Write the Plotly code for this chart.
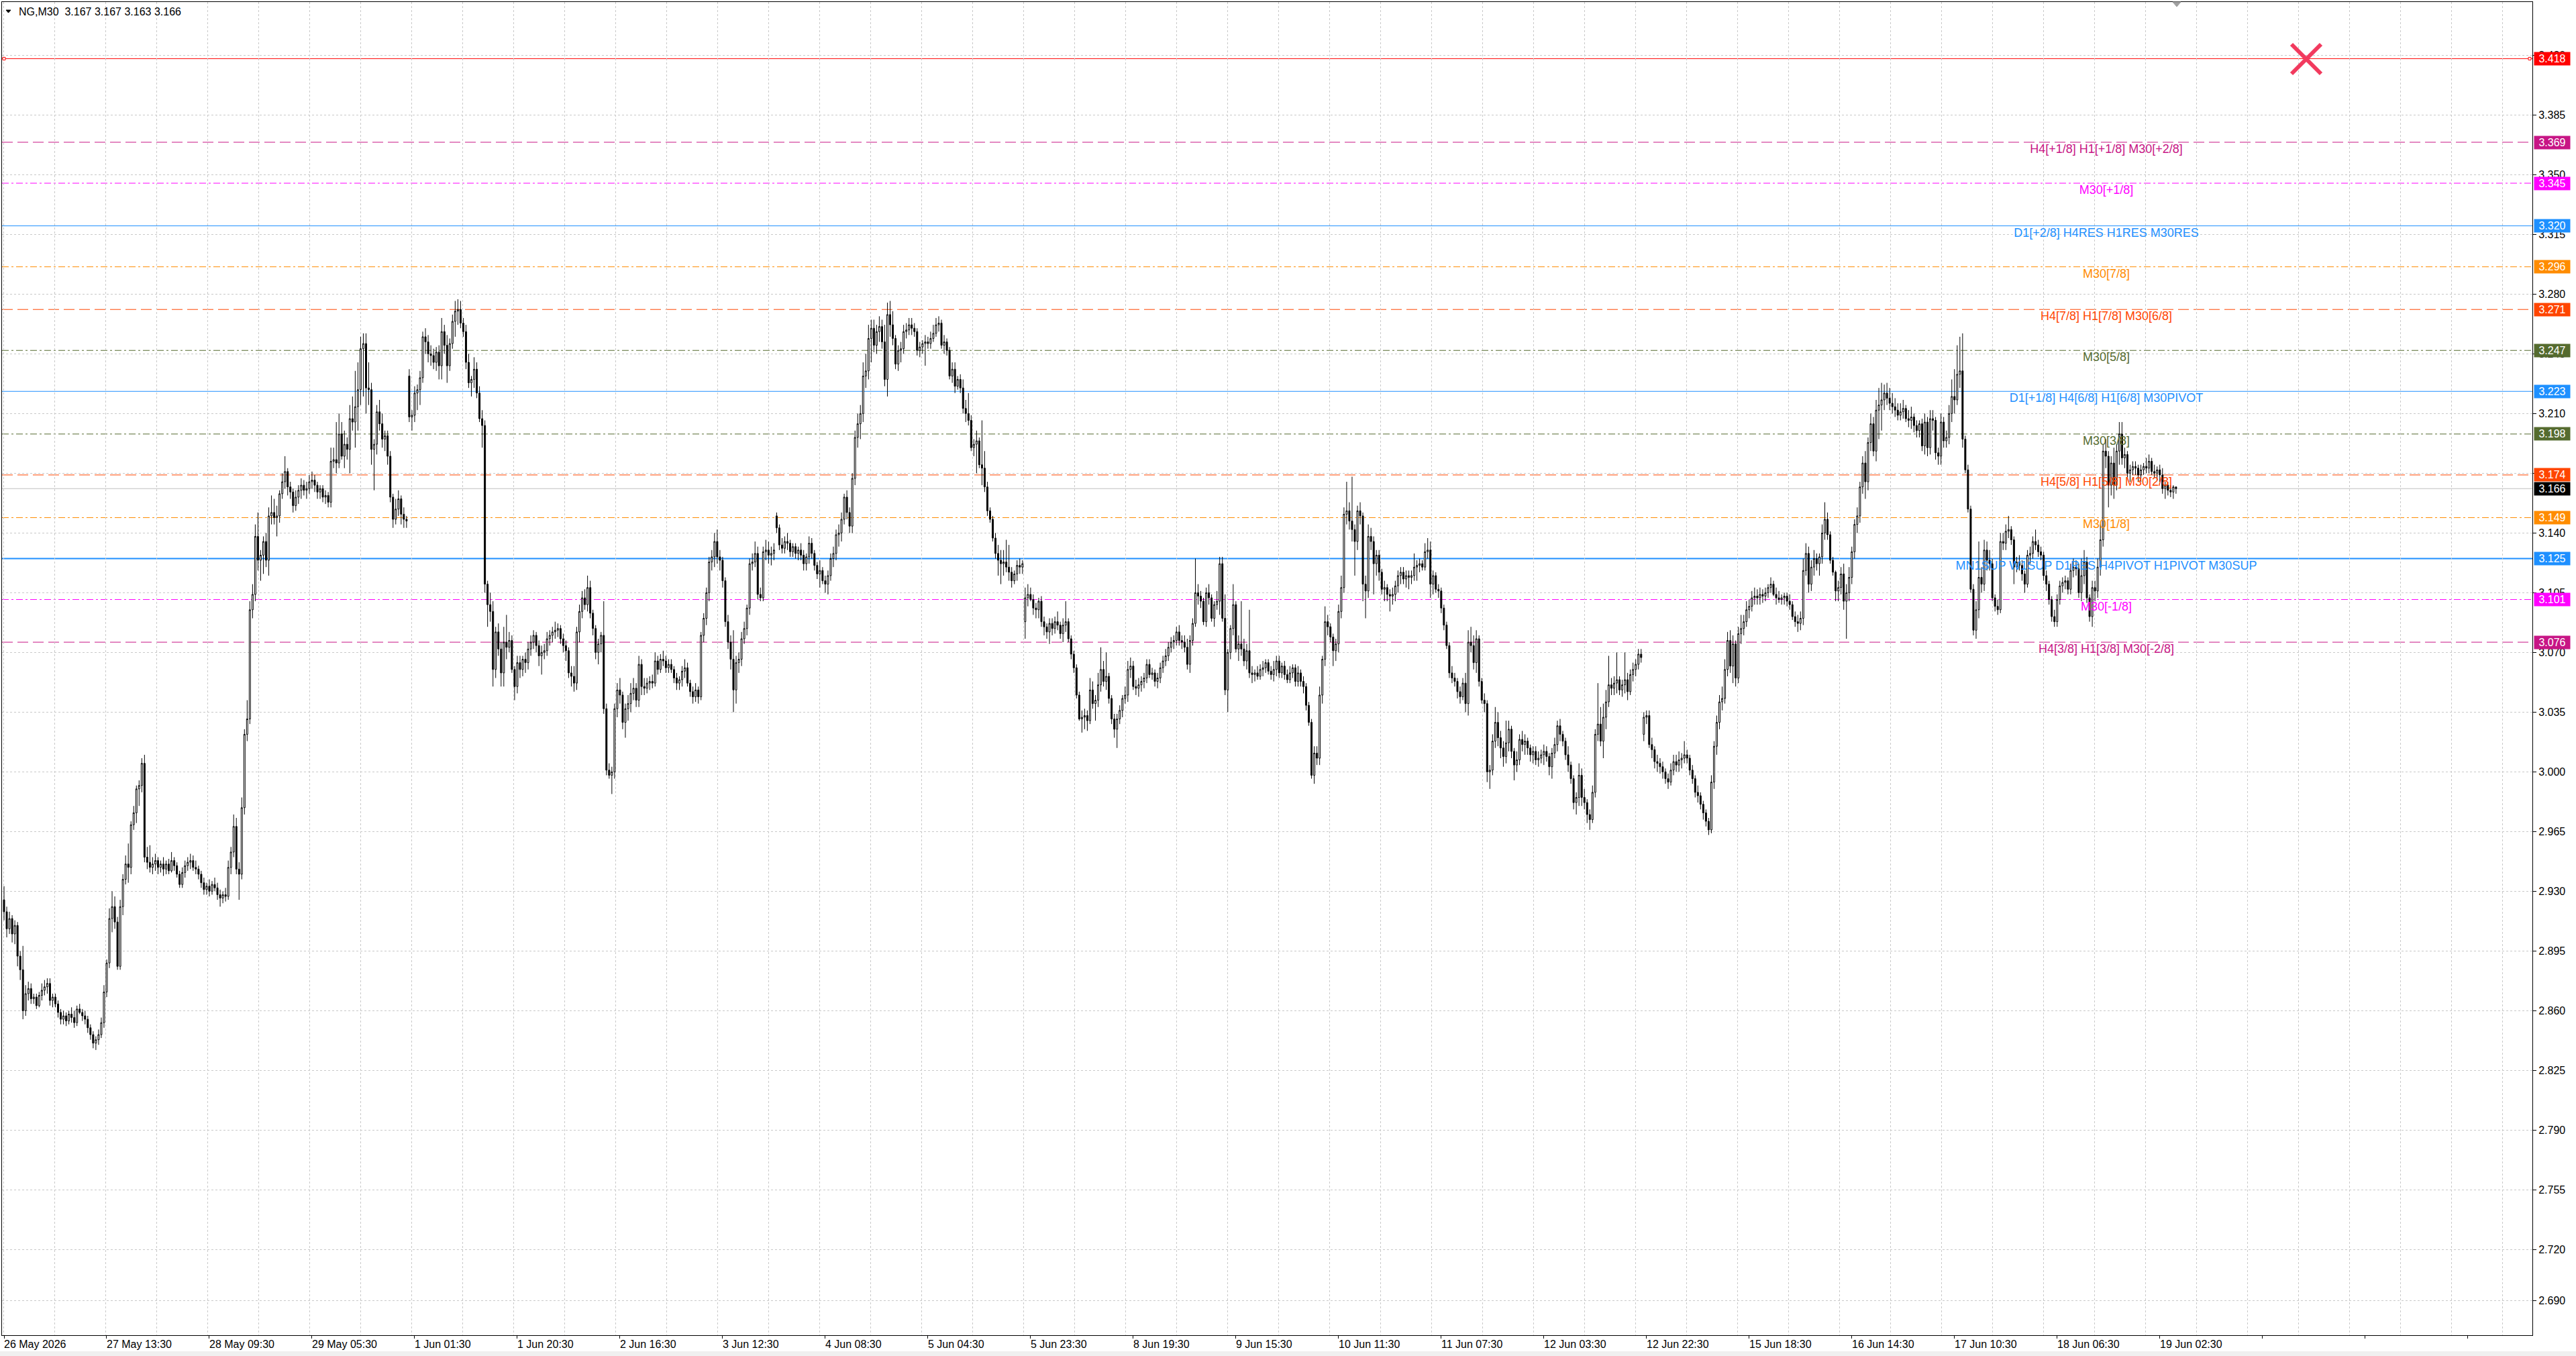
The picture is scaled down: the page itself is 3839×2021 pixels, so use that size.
import plotly.graph_objects as go

# ---------------- data (prices in thousandths) ----------------
closes = [
2918,2908,2914,2905,2910,2892,2884,2860,2870,2873,2867,2868,2863,2869,2872,2874,2876,2866,2868,2864,
2859,2855,2857,2854,2858,2856,2853,2861,2859,2857,2855,2850,2846,2841,2843,2846,2853,2871,2888,2914,
2921,2912,2886,2921,2937,2946,2944,2969,2976,2990,2992,3005,2950,2947,2944,2946,2948,2944,2946,2943,
2946,2942,2948,2945,2940,2934,2941,2945,2947,2948,2944,2943,2940,2935,2931,2933,2930,2934,2932,2928,
2926,2928,2927,2944,2953,2968,2943,2940,2979,3022,3031,3095,3104,3138,3124,3127,3135,3124,3150,3152,
3149,3150,3163,3170,3176,3167,3164,3156,3161,3165,3168,3165,3166,3170,3171,3168,3164,3166,3161,3162,
3158,3182,3183,3181,3198,3185,3192,3189,3207,3205,3214,3224,3248,3251,3225,3224,3189,3192,3211,3204,
3195,3197,3185,3161,3148,3154,3160,3151,3148,3147,3208,3209,3222,3224,3231,3255,3252,3245,3244,3240,
3246,3238,3258,3250,3238,3251,3264,3270,3271,3263,3258,3240,3228,3230,3236,3222,3207,3203,3110,3098,
3094,3060,3082,3072,3058,3076,3073,3077,3060,3050,3064,3060,3066,3064,3072,3076,3080,3074,3068,3070,
3071,3078,3080,3082,3083,3084,3078,3074,3071,3058,3056,3052,3082,3094,3102,3098,3108,3093,3084,3070,
3075,3080,3037,3001,2998,3000,3037,3048,3045,3029,3037,3040,3046,3049,3042,3063,3050,3049,3052,3053,
3052,3065,3060,3066,3065,3061,3063,3060,3055,3052,3054,3059,3061,3052,3047,3044,3048,3044,3080,3090,
3105,3123,3126,3135,3126,3124,3112,3088,3076,3066,3048,3064,3066,3078,3084,3096,3122,3123,3128,3104,
3102,3129,3130,3127,3128,3130,3143,3133,3131,3135,3134,3129,3132,3128,3130,3127,3122,3126,3134,3128,
3121,3116,3118,3112,3110,3115,3125,3128,3139,3140,3148,3161,3152,3144,3172,3196,3204,3210,3232,3235,
3254,3260,3250,3258,3261,3252,3230,3268,3262,3254,3239,3247,3248,3258,3259,3262,3260,3258,3247,3249,
3251,3252,3251,3254,3257,3262,3263,3250,3252,3247,3232,3236,3226,3230,3225,3213,3210,3206,3190,3192,
3194,3180,3178,3167,3153,3148,3137,3128,3124,3122,3123,3120,3117,3112,3116,3121,3120,3122,3102,3104,
3101,3096,3095,3100,3088,3085,3082,3087,3084,3088,3086,3081,3086,3088,3078,3069,3061,3045,3031,3032,
3033,3030,3048,3040,3042,3051,3060,3053,3056,3043,3031,3025,3031,3036,3043,3045,3060,3062,3050,3049,
3051,3053,3055,3063,3057,3058,3053,3055,3061,3065,3068,3073,3076,3077,3082,3077,3076,3073,3063,3077,
3087,3105,3103,3100,3088,3105,3102,3090,3098,3100,3122,3090,3048,3070,3084,3098,3072,3075,3072,3065,
3071,3058,3057,3058,3056,3060,3061,3064,3059,3057,3060,3065,3058,3062,3057,3054,3058,3061,3053,3058,
3053,3050,3039,3029,2998,3011,3008,3045,3066,3088,3085,3079,3071,3075,3094,3108,3151,3153,3147,3142,
3135,3153,3150,3110,3106,3138,3135,3122,3127,3117,3107,3108,3104,3103,3104,3109,3115,3117,3113,3115,
3114,3115,3120,3121,3122,3120,3129,3130,3110,3115,3107,3106,3096,3086,3074,3058,3055,3053,3047,3044,
3052,3040,3076,3074,3064,3078,3053,3042,3040,3000,3001,3018,3029,3020,3014,3009,3017,3025,3012,3004,
3007,3019,3016,3018,3014,3010,3012,3007,3008,3010,3012,3009,3003,3011,3016,3027,3022,3018,3010,3004,
2996,2982,2985,2998,2985,2982,2975,2972,2988,3022,3028,3018,3032,3041,3051,3049,3052,3054,3048,3051,
3054,3047,3057,3060,3063,3069,3067,3032,3033,3016,3013,3006,3005,3003,3000,2996,2994,3001,3006,3004,
3007,3008,3010,3008,3001,2996,2988,2986,2981,2976,2971,2966,2994,3015,3029,3041,3043,3060,3077,3062,
3075,3055,3081,3084,3088,3095,3097,3102,3103,3102,3104,3103,3105,3108,3110,3104,3102,3101,3102,3103,
3100,3098,3091,3088,3087,3090,3118,3128,3110,3120,3125,3122,3126,3140,3148,3139,3124,3117,3106,3108,
3116,3100,3105,3114,3129,3145,3150,3167,3181,3170,3193,3204,3188,3212,3215,3218,3222,3219,3216,3214,
3212,3209,3211,3213,3207,3206,3208,3203,3200,3204,3191,3205,3190,3207,3206,3187,3185,3205,3194,3196,
3210,3220,3218,3233,3235,3195,3177,3154,3107,3083,3095,3114,3110,3130,3124,3122,3102,3097,3095,3135,
3134,3141,3142,3136,3120,3123,3121,3116,3110,3127,3128,3135,3133,3129,3127,3115,3110,3101,3091,3088,
3101,3109,3111,3112,3107,3118,3120,3119,3105,3115,3123,3102,3091,3108,3106,3120,3136,3188,3185,3168,
3181,3168,3188,3198,3184,3186,3175,3177,3179,3178,3174,3177,3179,3178,3182,3176,3175,3177,3174,3166,
3168,3165,3164,3167,3166]

highs = [
2933,2921,2918,2916,2913,2912,2895,2898,2875,2877,2876,2870,2870,2871,2876,2878,2879,2879,2870,2870,
2866,2861,2860,2859,2860,2862,2860,2863,2864,2861,2860,2857,2852,2848,2845,2849,2856,2875,2890,2920,
2930,2927,2915,2925,2940,2951,2958,2971,2980,2992,2995,3008,3010,2956,2957,2950,2952,2950,2948,2950,
2948,2949,2953,2950,2947,2942,2944,2948,2950,2952,2951,2948,2945,2942,2938,2935,2937,2936,2938,2935,
2931,2930,2932,2948,2956,2975,2973,2947,2985,3025,3042,3100,3110,3145,3152,3130,3138,3140,3155,3162,
3160,3156,3165,3175,3185,3178,3170,3166,3165,3168,3172,3171,3170,3174,3176,3174,3170,3168,3168,3165,
3164,3190,3190,3205,3210,3205,3200,3196,3215,3220,3235,3240,3255,3257,3257,3240,3228,3195,3215,3218,
3210,3200,3200,3188,3163,3160,3165,3162,3155,3150,3236,3212,3226,3227,3235,3258,3260,3256,3250,3248,
3249,3250,3266,3262,3256,3254,3268,3276,3277,3276,3266,3262,3245,3232,3243,3240,3226,3212,3206,3112,
3105,3100,3085,3087,3076,3085,3092,3082,3080,3062,3068,3068,3068,3070,3076,3080,3083,3082,3077,3074,
3075,3082,3083,3085,3088,3087,3086,3081,3077,3073,3062,3062,3085,3098,3106,3107,3115,3112,3095,3086,
3078,3082,3100,3040,3005,3003,3040,3052,3055,3047,3040,3045,3052,3055,3052,3068,3066,3055,3055,3056,
3057,3070,3068,3069,3071,3068,3066,3066,3062,3058,3056,3062,3066,3064,3054,3050,3052,3050,3082,3093,
3108,3126,3130,3140,3142,3130,3126,3114,3092,3080,3083,3068,3070,3082,3088,3098,3125,3128,3135,3132,
3108,3132,3136,3135,3132,3134,3152,3145,3137,3138,3140,3136,3134,3134,3132,3134,3130,3128,3138,3137,
3130,3123,3124,3120,3115,3118,3128,3132,3142,3145,3152,3163,3165,3155,3175,3200,3210,3215,3240,3245,
3262,3265,3265,3262,3267,3265,3262,3275,3276,3270,3256,3250,3252,3262,3263,3266,3266,3263,3260,3252,
3253,3256,3255,3258,3262,3266,3267,3265,3256,3254,3249,3240,3240,3232,3233,3230,3218,3222,3209,3195,
3200,3196,3206,3188,3170,3155,3150,3140,3133,3130,3130,3136,3133,3120,3118,3124,3125,3124,3108,3110,
3108,3104,3099,3102,3103,3091,3087,3090,3090,3091,3094,3088,3090,3100,3090,3080,3071,3063,3047,3036,
3037,3036,3055,3053,3045,3058,3073,3065,3070,3058,3045,3034,3034,3039,3045,3050,3065,3067,3065,3054,
3055,3056,3058,3066,3066,3061,3060,3058,3064,3068,3072,3076,3079,3080,3085,3086,3080,3080,3078,3080,
3090,3125,3110,3106,3102,3108,3110,3104,3100,3106,3126,3126,3104,3072,3086,3110,3100,3080,3100,3078,
3075,3095,3062,3060,3062,3063,3065,3066,3066,3062,3065,3068,3068,3064,3065,3060,3062,3063,3063,3062,
3060,3056,3052,3041,3031,3015,3015,3050,3068,3097,3092,3087,3081,3078,3098,3115,3155,3170,3158,3173,
3145,3156,3158,3152,3115,3145,3143,3138,3130,3130,3119,3112,3110,3107,3108,3112,3118,3120,3120,3118,
3118,3118,3128,3124,3125,3124,3134,3137,3135,3118,3117,3110,3108,3098,3088,3076,3062,3058,3055,3050,
3055,3058,3083,3085,3080,3083,3080,3055,3046,3042,3004,3022,3038,3035,3024,3018,3030,3030,3027,3014,
3012,3022,3024,3022,3020,3016,3015,3015,3012,3013,3016,3015,3011,3014,3020,3030,3031,3024,3020,3015,
3006,2998,2988,3005,3002,2990,2984,2978,2992,3025,3052,3038,3040,3048,3068,3055,3056,3070,3056,3054,
3070,3058,3060,3064,3066,3072,3072,3035,3036,3036,3020,3015,3010,3008,3006,3002,2999,3005,3010,3010,
3012,3011,3018,3013,3010,3004,2998,2992,2988,2983,2978,2973,2998,3018,3033,3045,3050,3066,3082,3083,
3080,3077,3085,3092,3092,3100,3101,3106,3108,3107,3108,3107,3108,3110,3114,3112,3108,3106,3104,3105,
3105,3104,3100,3094,3092,3094,3125,3134,3132,3124,3130,3128,3128,3145,3158,3152,3141,3126,3118,3112,
3120,3122,3110,3120,3132,3148,3155,3170,3185,3188,3196,3210,3208,3218,3225,3228,3227,3228,3225,3222,
3219,3216,3216,3218,3215,3212,3214,3210,3206,3206,3207,3210,3208,3212,3212,3208,3190,3210,3208,3200,
3215,3230,3236,3250,3255,3257,3197,3180,3156,3110,3100,3135,3120,3136,3135,3130,3125,3104,3101,3140,
3140,3145,3150,3144,3138,3126,3127,3124,3118,3130,3132,3138,3142,3136,3132,3129,3118,3112,3103,3095,
3104,3112,3114,3115,3114,3122,3125,3124,3122,3125,3130,3126,3104,3112,3112,3125,3145,3192,3195,3188,
3185,3190,3192,3205,3205,3190,3188,3180,3182,3182,3180,3180,3181,3184,3186,3184,3180,3179,3180,3178,
3170,3170,3168,3168,3167]

lows = [
2913,2903,2905,2900,2899,2886,2878,2855,2857,2866,2864,2864,2861,2862,2866,2869,2870,2863,2862,2862,
2856,2852,2852,2851,2852,2853,2850,2851,2858,2854,2852,2847,2843,2838,2837,2840,2844,2850,2868,2885,
2906,2908,2884,2884,2916,2934,2935,2940,2966,2970,2980,2988,2947,2943,2941,2940,2942,2940,2941,2939,
2940,2940,2941,2942,2938,2932,2932,2938,2942,2943,2942,2940,2937,2932,2928,2928,2927,2928,2930,2925,
2921,2923,2924,2925,2940,2950,2940,2925,2937,2975,3018,3028,3090,3100,3118,3112,3116,3120,3115,3145,
3145,3138,3146,3160,3166,3162,3160,3152,3153,3157,3160,3162,3160,3163,3166,3164,3160,3160,3158,3157,
3155,3155,3178,3175,3178,3183,3178,3183,3175,3200,3190,3200,3215,3220,3210,3215,3180,3165,3186,3200,
3190,3188,3180,3158,3143,3145,3150,3145,3143,3143,3205,3200,3205,3212,3215,3228,3245,3240,3238,3236,
3235,3230,3230,3245,3228,3235,3248,3255,3262,3260,3255,3236,3225,3220,3225,3219,3205,3190,3105,3085,
3088,3050,3055,3068,3050,3050,3066,3070,3058,3042,3046,3055,3056,3058,3060,3068,3072,3070,3062,3057,
3066,3068,3074,3076,3078,3079,3075,3070,3065,3055,3050,3047,3048,3076,3090,3095,3094,3090,3080,3066,
3063,3070,3034,2998,2996,2987,2996,3032,3040,3025,3020,3030,3035,3042,3038,3038,3045,3045,3046,3048,
3049,3050,3057,3058,3062,3058,3058,3058,3052,3048,3048,3050,3055,3050,3044,3040,3041,3040,3042,3076,
3086,3100,3118,3120,3122,3118,3108,3085,3072,3060,3035,3040,3058,3062,3075,3080,3092,3118,3120,3101,
3100,3100,3124,3122,3121,3124,3140,3130,3128,3128,3130,3126,3126,3125,3124,3124,3118,3118,3122,3125,
3118,3113,3108,3110,3105,3104,3112,3120,3124,3132,3135,3145,3148,3140,3140,3168,3190,3195,3205,3225,
3230,3240,3246,3245,3252,3248,3226,3220,3255,3250,3236,3235,3240,3245,3254,3256,3256,3255,3244,3243,
3245,3238,3248,3248,3252,3255,3258,3248,3245,3244,3230,3228,3222,3224,3222,3210,3205,3203,3188,3185,
3175,3178,3168,3164,3150,3146,3135,3125,3115,3110,3115,3117,3112,3108,3110,3112,3116,3116,3078,3097,
3100,3092,3090,3090,3085,3080,3078,3075,3080,3081,3083,3078,3076,3082,3076,3066,3058,3043,3030,3023,
3025,3024,3028,3037,3030,3038,3047,3050,3048,3040,3028,3020,3014,3028,3032,3040,3041,3055,3048,3045,
3044,3047,3049,3052,3055,3054,3050,3049,3052,3058,3062,3065,3070,3072,3074,3074,3072,3070,3060,3058,
3074,3085,3098,3096,3086,3085,3098,3088,3085,3095,3092,3088,3045,3035,3066,3080,3070,3065,3068,3062,
3060,3055,3052,3053,3054,3054,3056,3058,3057,3054,3053,3056,3055,3055,3054,3052,3052,3055,3050,3050,
3050,3046,3036,3027,2996,2993,3004,3004,3040,3062,3080,3076,3062,3065,3070,3090,3105,3145,3142,3135,
3115,3130,3145,3100,3090,3102,3130,3104,3115,3112,3104,3100,3100,3094,3098,3100,3105,3110,3110,3108,
3107,3110,3112,3112,3117,3118,3118,3125,3102,3104,3105,3102,3093,3083,3072,3055,3052,3050,3043,3040,
3042,3035,3033,3070,3060,3058,3050,3040,3035,2994,2990,2998,3014,3015,3008,3003,3005,3012,3008,2995,
3000,3004,3012,3010,3010,3006,3005,3004,3003,3005,3004,3006,2998,2996,3008,3012,3018,3015,3007,3000,
2993,2978,2975,2980,2980,2978,2970,2966,2970,2985,3018,3015,3008,3025,3038,3045,3045,3046,3045,3044,
3046,3042,3045,3053,3056,3060,3064,3018,3028,3014,3008,3002,3000,2999,2996,2993,2990,2992,2998,3000,
3000,3002,3005,3005,2998,2993,2985,2982,2978,2972,2968,2963,2964,2990,3010,3025,3036,3040,3056,3058,
3052,3050,3052,3075,3080,3085,3090,3094,3098,3098,3098,3099,3100,3102,3105,3103,3098,3099,3098,3098,
3097,3095,3089,3085,3082,3083,3086,3115,3105,3106,3115,3118,3115,3122,3136,3136,3122,3115,3100,3100,
3104,3095,3078,3100,3110,3125,3140,3146,3163,3160,3165,3188,3185,3182,3195,3200,3212,3215,3212,3210,
3208,3206,3206,3207,3205,3202,3201,3199,3196,3196,3188,3186,3185,3186,3200,3183,3180,3180,3190,3190,
3192,3205,3210,3215,3225,3190,3175,3152,3105,3080,3078,3090,3105,3106,3118,3118,3100,3094,3092,3093,
3130,3130,3137,3133,3110,3117,3118,3112,3105,3108,3122,3125,3130,3126,3124,3112,3106,3098,3088,3085,
3085,3098,3105,3107,3104,3104,3114,3115,3102,3100,3110,3099,3088,3085,3100,3102,3115,3132,3178,3155,
3162,3160,3165,3180,3180,3178,3172,3170,3174,3174,3170,3170,3174,3175,3175,3174,3172,3171,3170,3163,
3160,3162,3161,3160,3163]

first_open = 2925                                      # open of the first visible bar
gap_opens = {150: 3232, 286: 3150, 378: 3088, 607: 3022}  # session-gap opens

time_labels = ["26 May 2026", "27 May 13:30", "28 May 09:30", "29 May 05:30", "1 Jun 01:30",
               "1 Jun 20:30", "2 Jun 16:30", "3 Jun 12:30", "4 Jun 08:30", "5 Jun 04:30",
               "5 Jun 23:30", "8 Jun 19:30", "9 Jun 15:30", "10 Jun 11:30", "11 Jun 07:30",
               "12 Jun 03:30", "12 Jun 22:30", "15 Jun 18:30", "16 Jun 14:30", "17 Jun 10:30",
               "18 Jun 06:30", "19 Jun 02:30"]
bars_per_label = 38

price_ticks = [3.420, 3.385, 3.350, 3.315, 3.280, 3.245, 3.210, 3.175, 3.140, 3.105, 3.070,
               3.035, 3.000, 2.965, 2.930, 2.895, 2.860, 2.825, 2.790, 2.755, 2.720, 2.690]

level_prices = [3.418, 3.369, 3.345, 3.320, 3.296, 3.271, 3.247, 3.223, 3.198, 3.174,
                3.166, 3.149, 3.125, 3.101, 3.076]
level_labels = ["", "H4[+1/8] H1[+1/8] M30[+2/8]", "M30[+1/8]", "D1[+2/8] H4RES H1RES M30RES",
                "M30[7/8]", "H4[7/8] H1[7/8] M30[6/8]", "M30[5/8]",
                "D1[+1/8] H4[6/8] H1[6/8] M30PIVOT", "M30[3/8]", "H4[5/8] H1[5/8] M30[2/8]",
                "", "M30[1/8]", "MN1SUP W1SUP D1RES H4PIVOT H1PIVOT M30SUP", "M30[-1/8]",
                "H4[3/8] H1[3/8] M30[-2/8]"]

# ---------------- styles ----------------
line_colors = ["#FF0000", "#C71585", "#FF00FF", "#1E90FF", "#FF8C00", "#FF4500", "#556B2F",
               "#1E90FF", "#556B2F", "#FF4500", "#C0C0C0", "#FF8C00", "#1E90FF", "#FF00FF", "#C71585"]
tag_colors = ["#FF0000", "#C71585", "#FF00FF", "#1E90FF", "#FF8C00", "#FF4500", "#556B2F",
              "#1E90FF", "#556B2F", "#FF4500", "#000000", "#FF8C00", "#1E90FF", "#FF00FF", "#C71585"]
DASH = "16px,7px"
DASHDOT = "10px,4px,3px,4px"
line_dashes = ["solid", DASH, DASHDOT, "solid", DASHDOT, DASH, DASHDOT, "solid", DASHDOT, DASH,
               "solid", DASHDOT, "solid", DASHDOT, DASH]
line_widths = [1, 1, 1, 1, 1, 1, 1, 1, 1, 1, 1, 1, 2, 1, 1]

FONT = "Arial, Liberation Sans, sans-serif"
W, H = 3839, 2021
ML, MR, MT, MB = 3, 65, 3, 31
BAR_PX = 4.026          # horizontal pixels per bar
FIRST_BAR_PX = 6        # pixel position of bar 0 inside the figure
plot_w = W - ML - MR
plot_h = H - MT - MB

# ---------------- build series ----------------
n = min(len(closes), len(highs), len(lows))
c = [v / 1000 for v in closes[:n]]
opens_m = [first_open] + closes[:n - 1]
for k, v in gap_opens.items():
    if k < n:
        opens_m[k] = v
o = [v / 1000 for v in opens_m]
h = [max(highs[i], opens_m[i], closes[i]) / 1000 for i in range(n)]
l = [min(lows[i], opens_m[i], closes[i]) / 1000 for i in range(n)]
xs = list(range(n))

x0 = (ML - FIRST_BAR_PX) / BAR_PX
x1 = (ML + plot_w - FIRST_BAR_PX) / BAR_PX
y_top_px, y_p, ppu = 87.4, 3.418, 2543.0
y1 = y_p + (y_top_px - MT) / ppu
y0 = y_p - (MT + plot_h - y_top_px) / ppu

fig = go.Figure()

# level text labels (drawn below candles), nudged ~2.5 px under their line
lab_x = (3139 - FIRST_BAR_PX) / BAR_PX
lab_drop = 2.5 / ppu
lab_idx = [i for i, t in enumerate(level_labels) if t]
fig.add_trace(go.Scatter(
    x=[lab_x] * len(lab_idx), y=[level_prices[i] - lab_drop for i in lab_idx],
    mode="text", text=[level_labels[i] for i in lab_idx],
    textposition="bottom center",
    textfont=dict(size=18, family=FONT, color=[line_colors[i] for i in lab_idx]),
    hoverinfo="skip", showlegend=False, cliponaxis=False))

fig.add_trace(go.Candlestick(
    x=xs, open=o, high=h, low=l, close=c,
    increasing=dict(line=dict(color="black", width=1), fillcolor="white"),
    decreasing=dict(line=dict(color="black", width=1), fillcolor="black"),
    whiskerwidth=0, showlegend=False, hoverinfo="skip"))

shapes = []
for p, col, d, wdt in zip(level_prices, line_colors, line_dashes, line_widths):
    shapes.append(dict(type="line", xref="paper", x0=0, x1=1, yref="y", y0=p, y1=p,
                       line=dict(color=col, width=wdt, dash=d), layer="below"))

# small anchor squares of the red line
for xa, dx0 in [(0, 1), (1, -6)]:
    shapes.append(dict(type="rect", xref="paper", xsizemode="pixel", xanchor=xa,
                       x0=dx0, x1=dx0 + 4, yref="y", ysizemode="pixel", yanchor=3.418,
                       y0=-2, y1=2, line=dict(color="#FF0000", width=1), fillcolor="white"))

# red X mark
xc = (3437 - ML) / plot_w
yc = (MT + plot_h - 88) / plot_h
for a, b in [((-22, -22), (22, 22)), ((-22, 22), (22, -22))]:
    shapes.append(dict(type="line", xref="paper", xsizemode="pixel", xanchor=xc,
                       x0=a[0], x1=b[0], yref="paper", ysizemode="pixel", yanchor=yc,
                       y0=a[1], y1=b[1], line=dict(color="#F23A5E", width=6)))

# header triangle
shapes.append(dict(type="path", xref="paper", xsizemode="pixel", xanchor=0,
                   yref="paper", ysizemode="pixel", yanchor=1,
                   path="M 6,-12 L 13,-12 L 9.5,-16 Z", fillcolor="black",
                   line=dict(color="black", width=1)))

# chart-shift marker (small grey triangle at the top edge)
xs_mark = (3244 - ML) / plot_w
shapes.append(dict(type="path", xref="paper", xsizemode="pixel", xanchor=xs_mark,
                   yref="paper", ysizemode="pixel", yanchor=1,
                   path="M -6,0 L 6,0 L 0,-7 Z", fillcolor="#A0A0A0",
                   line=dict(color="#A0A0A0", width=1)))

# bottom grey strip of the window
shapes.append(dict(type="rect", xref="paper", xsizemode="pixel", xanchor=0, x0=-ML, x1=W,
                   yref="paper", ysizemode="pixel", yanchor=0, y0=-MB, y1=-MB + 7,
                   fillcolor="#F0F0F0", line=dict(width=0)))

annotations = []
# time labels
for k, t in enumerate(time_labels):
    annotations.append(dict(x=k * bars_per_label, xref="x", y=0, yref="paper",
                            text=t, showarrow=False, xanchor="left", yanchor="middle",
                            xshift=-2, yshift=-13, font=dict(size=16, family=FONT, color="black")))
# price tags
for p, col in zip(level_prices, tag_colors):
    annotations.append(dict(x=1, xref="paper", y=p, yref="y", text=f"{p:.3f}",
                            showarrow=False, xanchor="left", yanchor="middle", xshift=2,
                            width=53, height=19, bgcolor=col, borderpad=0, align="center",
                            font=dict(size=16, family=FONT, color="white")))
# header
annotations.append(dict(x=0, xref="paper", y=1, yref="paper",
                        text="NG,M30\u00a0\u00a03.167 3.167 3.163 3.166",
                        showarrow=False, xanchor="left", yanchor="middle", xshift=23, yshift=-14,
                        font=dict(size=16, family=FONT, color="black")))

fig.update_layout(
    width=W, height=H, margin=dict(l=ML, r=MR, t=MT, b=MB, pad=0),
    paper_bgcolor="white", plot_bgcolor="white", hovermode=False,
    shapes=shapes, annotations=annotations, showlegend=False,
    xaxis=dict(range=[x0, x1], rangeslider=dict(visible=False), showticklabels=False,
               tickmode="linear", tick0=0, dtick=bars_per_label, ticks="outside", ticklen=4,
               tickcolor="black", showgrid=False, zeroline=False,
               minor=dict(tickmode="linear", tick0=(5 - FIRST_BAR_PX) / BAR_PX, dtick=76 / BAR_PX,
                          showgrid=True, gridcolor="#C8C8C8", griddash="3px,3px", gridwidth=1),
               showline=True, mirror=True, linecolor="black", linewidth=1, fixedrange=True),
    yaxis=dict(range=[y0, y1], side="right", tickmode="array", tickvals=price_ticks,
               ticktext=[f"{v:.3f}" for v in price_ticks], ticks="outside", ticklen=5,
               tickcolor="black", tickfont=dict(size=16, family=FONT, color="black"),
               showgrid=True, gridcolor="#C8C8C8", griddash="3px,3px", gridwidth=1,
               zeroline=False, showline=True, mirror=True, linecolor="black", linewidth=1,
               fixedrange=True),
)

fig.write_html("out.html", config={"displayModeBar": False},
               post_script="document.body.style.margin='0';document.body.style.overflow='hidden';")
